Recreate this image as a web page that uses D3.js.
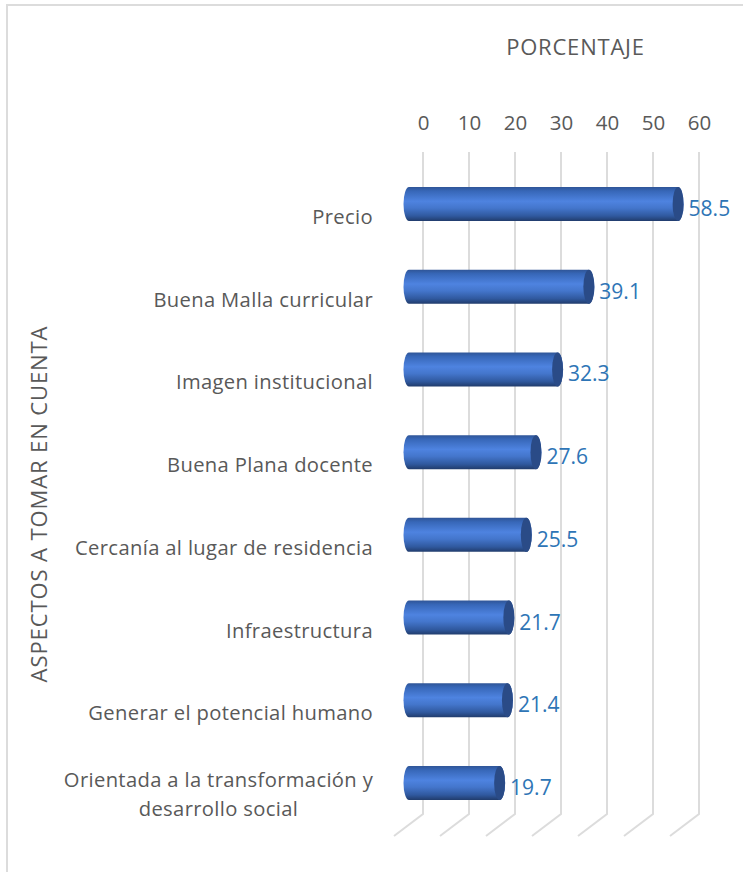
<!DOCTYPE html>
<html><head><meta charset="utf-8">
<script src="https://cdnjs.cloudflare.com/ajax/libs/d3/7.8.5/d3.min.js"></script>
<style>html,body{margin:0;padding:0;background:#fff}svg{display:block}text{font-family:"Open Sans",Lato,sans-serif}</style>
</head><body><svg id="c" width="743" height="872"></svg>
<script>
const categories=[["Precio"],["Buena Malla curricular"],["Imagen institucional"],["Buena Plana docente"],["Cercanía al lugar de residencia"],["Infraestructura"],["Generar el potencial humano"],["Orientada a la transformación y","desarrollo social"]];
const values=[58.5,39.1,32.3,27.6,25.5,21.7,21.4,19.7];
const ticks=[0,10,20,30,40,50,60];
const xTitle="PORCENTAJE", yTitle="ASPECTOS A TOMAR EN CUENTA";

const svg=d3.select("#c");
const W=743,H=872;
const grey="#595959", blue="#2e75b6", grid="#dcdcdc";
const x=d3.scaleLinear().domain([0,60]).range([409,685]);
const depth=14, rx=5.5, barH=34;
const y=d3.scalePoint().domain(d3.range(values.length)).range([204,783]);

const defs=svg.append("defs");
const g=defs.append("linearGradient").attr("id","cyl").attr("x1",0).attr("x2",0).attr("y1",0).attr("y2",1);
[[0,"#2f5597"],[0.12,"#3767b8"],[0.42,"#4e83e0"],[0.62,"#4476cc"],[0.85,"#30599f"],[1,"#213c6c"]]
 .forEach(([o,c])=>g.append("stop").attr("offset",o).attr("stop-color",c));

svg.append("rect").attr("x",7).attr("y",5).attr("width",W).attr("height",H).attr("fill","#fff").attr("stroke",grid).attr("stroke-width",2);

const gridTop=152, gridBottom=814, floorDx=29, floorDy=22;
const axisScale=d3.scaleLinear().domain(x.domain()).range(x.range().map(d=>d+depth));
svg.append("g").selectAll("path").data(ticks).join("path")
  .attr("d",t=>`M${axisScale(t)},${gridTop}V${gridBottom}L${axisScale(t)-floorDx},${gridBottom+floorDy}`)
  .attr("fill","none").attr("stroke",grid).attr("stroke-width",2);

const ax=svg.append("g").attr("transform","translate(0,130)").call(d3.axisTop(axisScale).tickValues(ticks).tickSize(0).tickPadding(0));
ax.select(".domain").remove();
ax.selectAll("text").attr("fill",grey).style("font-size","20.5px").style("font-family","'Open Sans',Lato,sans-serif");

svg.append("text").attr("x",575.5).attr("y",55).attr("text-anchor","middle").attr("fill",grey).style("font-size","22px").style("letter-spacing","0.8px").text(xTitle);
svg.append("text").attr("transform","translate(47,504) rotate(-90)").attr("text-anchor","middle").attr("fill",grey).style("font-size","22px").style("letter-spacing","0.9px").text(yTitle);

const bars=svg.append("g").selectAll("g").data(values).join("g");
bars.append("path").attr("fill","url(#cyl)").attr("d",(v,i)=>{
  const t=y(i)-barH/2,b=y(i)+barH/2,x0=x(0),x1=x(v);
  return `M${x0},${t}L${x1},${t}A${rx},${barH/2} 0 0 1 ${x1},${b}L${x0},${b}A${rx},${barH/2} 0 0 1 ${x0},${t}Z`;
});
bars.append("ellipse").attr("cx",v=>x(v)).attr("cy",(v,i)=>y(i)).attr("rx",rx).attr("ry",barH/2).attr("fill","#2a4b87");

bars.append("text").attr("x",v=>x(v)+rx+5).attr("y",(v,i)=>y(i)+12).attr("fill",blue).style("font-size","21px").text(v=>v.toFixed(1));

const labelRight=373, labelMid=218.5;
const cat=svg.append("g").selectAll("text").data(categories).join("text")
  .attr("fill",grey).style("font-size","20.2px").style("letter-spacing","0.35px");
cat.each(function(lines,i){
  const s=d3.select(this), multi=lines.length>1;
  const base=multi?y(i)+4:y(i)+20;
  lines.forEach((l,k)=>s.append("tspan").attr("x",multi?labelMid:labelRight).attr("y",base+k*29).attr("text-anchor",multi?"middle":"end").text(l));
});
</script></body></html>
